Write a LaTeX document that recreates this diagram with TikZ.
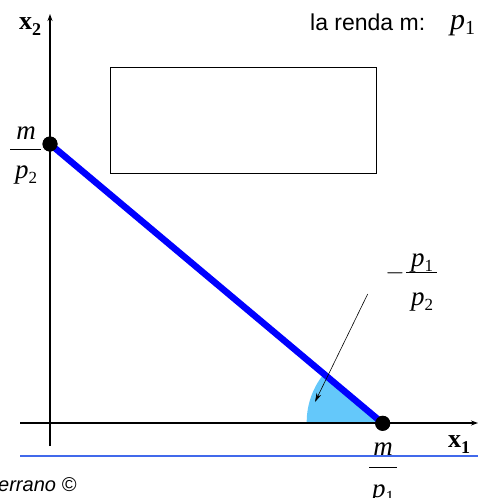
\documentclass[tikz,border=0pt]{standalone}
\usepackage{fontspec}
\setmainfont{Liberation Serif}
\newfontfamily\arialfont{Liberation Sans}
\usetikzlibrary{arrows.meta}
\definecolor{budgetblue}{RGB}{0,0,255}
\definecolor{wedgeblue}{RGB}{100,200,250}
\definecolor{baseblue}{RGB}{65,105,235}
\tikzset{
  axisline/.style={line width=2pt,-{Stealth[length=7pt,width=5pt]}},
  dotnode/.style={circle,fill=black,inner sep=0pt,minimum size=15pt},
  mathlbl/.style={inner sep=0pt,font=\fontsize{27}{27}\selectfont\itshape},
  fracline/.style={line width=1pt}
}
\begin{document}
\begin{tikzpicture}[x=1pt,y=-1pt]
\useasboundingbox (0,0) rectangle (478,498);
\clip (0,0) rectangle (478,498);
% coordinates
\coordinate (yb) at (50,446);
\coordinate (yt) at (50,14);
\coordinate (xl) at (20,423);
\coordinate (xr) at (478,423);
\coordinate (bl) at (20,456);
\coordinate (br) at (478,456);
% wedge
\fill[wedgeblue] (382.7,422) -- ++(180:76) arc[start angle=180,end angle=220,radius=76] -- cycle;
% thin blue line
\draw[baseblue,line width=2.5pt] (bl) -- (br);
% axes
\draw[axisline] (yb) -- (yt);
\draw[axisline] (xl) -- (xr);
% rectangle
\node[draw,line width=0.8pt,minimum width=266pt,minimum height=106pt,inner sep=0pt,anchor=north west] (box) at (110,67) {};
% points
\node[dotnode] (A) at (50,144) {};
\node[dotnode] (B) at (382.7,423.3) {};
\draw[budgetblue,line width=6.5pt] (A.center) -- (B.center);
\node[dotnode] at (A) {};
\node[dotnode] at (B) {};
% arrow
\coordinate (as) at (367.7,294);
\coordinate (ae) at (315,402);
\draw[line width=0.6pt,-{Stealth[length=9pt,width=5pt]}] (as) -- (ae);
% axis labels
\node[anchor=base west,inner sep=0pt] (x2lbl) at (19,29) {\fontsize{26}{26}\selectfont\bfseries x\raisebox{-6pt}{\fontsize{18}{18}\selectfont 2}};
\node[anchor=base west,inner sep=0pt] (x1lbl) at (448,447) {\fontsize{26}{26}\selectfont\bfseries x\raisebox{-6pt}{\fontsize{18}{18}\selectfont 1}};
% renda
\node[anchor=base west,inner sep=0pt] (renda) at (310,30) {\arialfont\fontsize{23}{23}\selectfont la renda m:};
\node[anchor=base west,inner sep=0pt] (p1top) at (450,29) {\fontsize{30}{30}\selectfont\itshape p\raisebox{-5pt}{\upshape\fontsize{20}{20}\selectfont 1}};
% m/p2
\node[mathlbl,anchor=base] (m2) at (26,139) {m};
\draw[fracline] (10,149) -- (41,149);
\node[mathlbl,anchor=base] (p2) at (26,178) {p\raisebox{-5pt}{\upshape\fontsize{17}{17}\selectfont 2}};
% -p1/p2
\node[inner sep=0pt] (minus) at (395,273) {\fontsize{24}{24}\selectfont $-$};
\draw[fracline] (406,272) -- (437,272);
\node[mathlbl,anchor=base] (pp1) at (422,266) {p\raisebox{-5pt}{\upshape\fontsize{17}{17}\selectfont 1}};
\node[mathlbl,anchor=base] (pp2) at (422,305) {p\raisebox{-5pt}{\upshape\fontsize{17}{17}\selectfont 2}};
% m/p1 bottom
\node[mathlbl,anchor=base] (m1) at (383,455) {m};
\draw[fracline] (369,467) -- (397,467);
\node[mathlbl,anchor=base] (pb1) at (383,497) {p\raisebox{-5pt}{\upshape\fontsize{17}{17}\selectfont 1}};
% credit
\node[anchor=base west,inner sep=0pt] (credit) at (-2,491) {\arialfont\fontsize{20}{20}\selectfont\itshape errano \textcopyright};
\end{tikzpicture}
\end{document}
